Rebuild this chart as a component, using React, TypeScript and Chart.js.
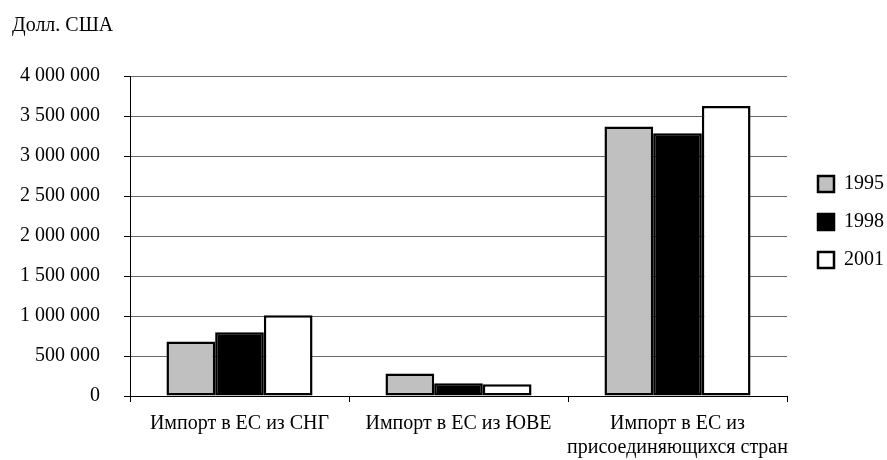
import React, { useEffect, useRef } from "react";
import { Chart, registerables } from "chart.js";

Chart.register(...registerables);

const categories: (string | string[])[] = [
  "Импорт в ЕС из СНГ",
  "Импорт в ЕС из ЮВЕ",
  ["Импорт в ЕС из", "присоединяющихся стран"],
];
const values1995 = [680000, 280000, 3370000];
const values1998 = [796000, 160000, 3283000];
const values2001 = [1010000, 146000, 3625000];
const yTickLabels = [
  "0",
  "500 000",
  "1 000 000",
  "1 500 000",
  "2 000 000",
  "2 500 000",
  "3 000 000",
  "3 500 000",
  "4 000 000",
];
const unitTitle = "Долл. США";

const FONT = "'Liberation Serif', 'Times New Roman', serif";

export default function App() {
  const ref = useRef<HTMLCanvasElement | null>(null);

  useEffect(() => {
    if (!ref.current) return;
    const legendShift = {
      id: "legendShift",
      afterLayout(chart: any) {
        const lg = chart.legend;
        if (!lg) return;
        const w = lg.width;
        lg.left = 800;
        lg.right = 800 + w;
        lg.top = 122;
        lg.bottom = 322;
      },
    };
    const chart = new Chart(ref.current, {
      type: "bar",
      data: {
        labels: categories,
        datasets: [
          {
            label: "1995",
            data: values1995,
            backgroundColor: "#c0c0c0",
            borderColor: "#000",
            borderWidth: 2.5,
            borderSkipped: false,
          },
          {
            label: "1998",
            data: values1998,
            backgroundColor: "#000",
            borderColor: "#000",
            borderWidth: 2.5,
            borderSkipped: false,
          },
          {
            label: "2001",
            data: values2001,
            backgroundColor: "#fff",
            borderColor: "#000",
            borderWidth: 2.5,
            borderSkipped: false,
          },
        ],
      },
      options: {
        animation: false,
        responsive: true,
        maintainAspectRatio: false,
        layout: { padding: { left: 12, right: 6, top: 0, bottom: 0 } },
        datasets: {
          bar: { categoryPercentage: 0.667, barPercentage: 1.0 },
        },
        plugins: {
          tooltip: { enabled: false },
          title: {
            display: true,
            text: unitTitle,
            align: "start",
            color: "#000",
            font: { family: FONT, size: 20, weight: "normal" },
            padding: { top: 14, bottom: 38 },
          },
          legend: {
            display: true,
            position: "right",
            maxWidth: 100,
            labels: {
              color: "#000",
              font: { family: FONT, size: 20 },
              boxWidth: 16,
              boxHeight: 16,
              padding: 18,
            },
          },
        },
        scales: {
          x: {
            offset: true,
            grid: {
              display: true,
              offset: true,
              drawOnChartArea: false,
              drawTicks: true,
              tickLength: 6,
              tickColor: "#000",
            },
            border: { display: true, color: "#000", width: 1 },
            ticks: {
              color: "#000",
              padding: 10,
              maxRotation: 0,
              autoSkip: false,
              font: { family: FONT, size: 20, lineHeight: 1.2 },
            },
            afterFit(scale: any) {
              scale.height = 64;
            },
          },
          y: {
            min: 0,
            max: 4000000,
            grid: {
              color: "#666666",
              lineWidth: 1,
              tickLength: 6,
              tickColor: "#000",
            },
            border: { display: true, color: "#000", width: 1 },
            ticks: {
              stepSize: 500000,
              color: "#000",
              padding: 24,
              font: { family: FONT, size: 20 },
              callback: (_v: any, i: number) => yTickLabels[i],
            },
            afterFit(scale: any) {
              scale.width = 118;
            },
          },
        },
      },
      plugins: [legendShift],
    });
    return () => chart.destroy();
  }, []);

  return (
    <div style={{ position: "fixed", left: 0, top: 0, width: 887, height: 460, background: "#fff" }}>
      <canvas ref={ref} />
    </div>
  );
}
